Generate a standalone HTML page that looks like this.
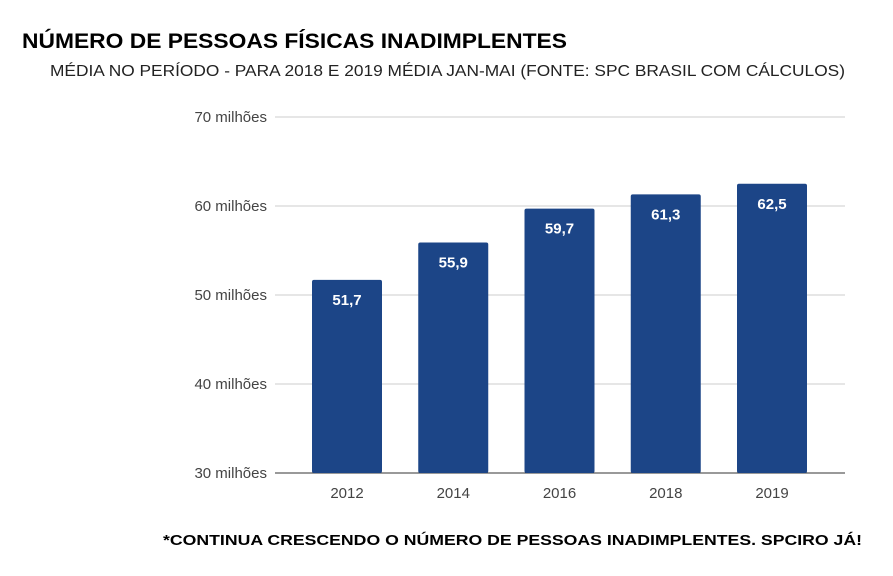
<!DOCTYPE html>
<html><head><meta charset="utf-8"><style>
body{margin:0;background:#fff;width:893px;height:571px;overflow:hidden;font-family:"Liberation Sans",sans-serif}
</style></head><body>
<svg width="893" height="571" xmlns="http://www.w3.org/2000/svg">
<text x="22" y="48" font-size="21" font-weight="bold" fill="#000" textLength="545" lengthAdjust="spacingAndGlyphs">NÚMERO DE PESSOAS FÍSICAS INADIMPLENTES</text>
<text x="50" y="76" font-size="15.5" fill="#222" textLength="795" lengthAdjust="spacingAndGlyphs">MÉDIA NO PERÍODO - PARA 2018 E 2019 MÉDIA JAN-MAI (FONTE: SPC BRASIL COM CÁLCULOS)</text>
<g id="grid"></g><g id="bars"></g>
<text x="163" y="545" font-size="14.5" font-weight="bold" fill="#000" textLength="699" lengthAdjust="spacingAndGlyphs">*CONTINUA CRESCENDO O NÚMERO DE PESSOAS INADIMPLENTES. SPCIRO JÁ!</text>
</svg>
<script>
const categories=["2012","2014","2016","2018","2019"];
const values=[51.7,55.9,59.7,61.3,62.5];
const valueLabels=["51,7","55,9","59,7","61,3","62,5"];
const ticks=[30,40,50,60,70];
const tickLabels=["30 milhões","40 milhões","50 milhões","60 milhões","70 milhões"];
const NS="http://www.w3.org/2000/svg";
const y=v=>473-(v-30)*8.9;
const x=i=>347+i*106.25;
function mk(t,a,p){const e=document.createElementNS(NS,t);for(const k in a)e.setAttribute(k,a[k]);p.appendChild(e);return e;}
const g=document.getElementById('grid'),b=document.getElementById('bars');
ticks.forEach((t,i)=>{
 const l=mk('line',{x1:275,x2:845,y1:y(t),y2:y(t),stroke:i==0?'#333':'#ccc','stroke-width':1},g);
 
 
 const tx=mk('text',{x:267,y:y(t)+5,'font-size':15,'text-anchor':'end',fill:'#444'},g);
 tx.textContent=tickLabels[i];
 
 
});
categories.forEach((c,i)=>{
 const r=mk('rect',{x:x(i)-35,y:y(values[i]),width:70,height:473-y(values[i]),fill:'#1c4587',rx:2},b);
 
 
 const v=mk('text',{x:x(i),y:y(values[i])+25,'font-size':15,'font-weight':'bold','text-anchor':'middle',fill:'#fff'},b);
 v.textContent=valueLabels[i];
 
 
 const cl=mk('text',{x:x(i),y:498,'font-size':15,'text-anchor':'middle',fill:'#444'},b);
 cl.textContent=c;
 
 
});
</script>
</body></html>
